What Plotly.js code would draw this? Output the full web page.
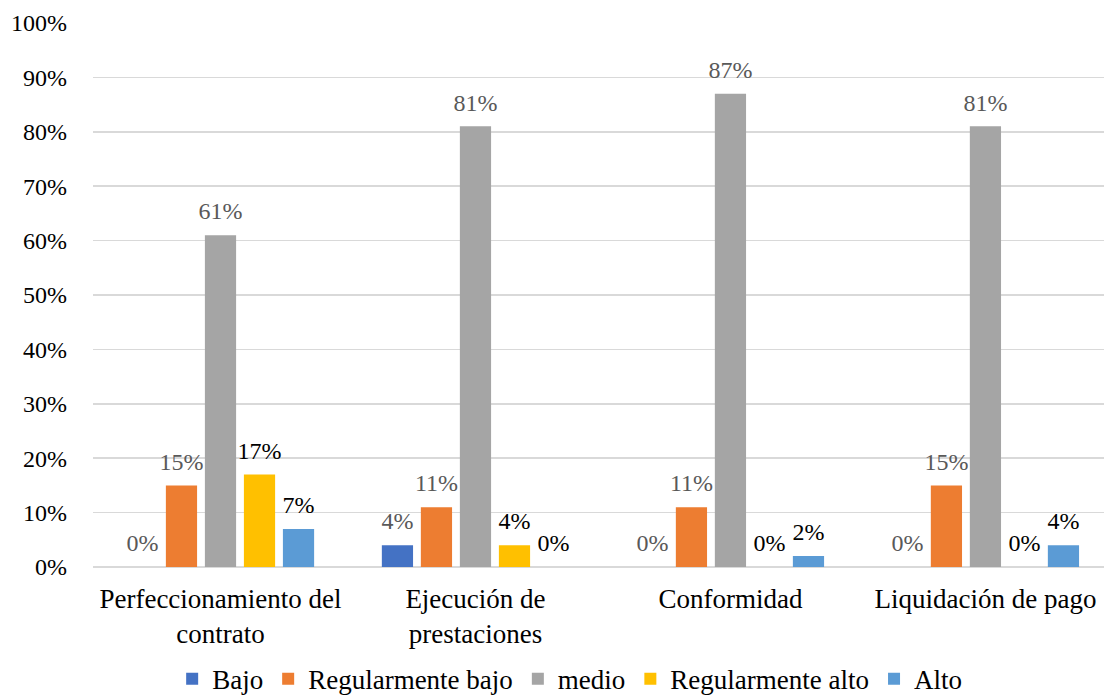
<!DOCTYPE html>
<html>
<head>
<meta charset="utf-8">
<script src="https://cdn.plot.ly/plotly-3.0.1.min.js"></script>
<style>html,body{margin:0;padding:0;background:#fff;}#chart{width:1104px;height:696px;}</style>
</head>
<body>
<div id="chart"></div>
<script>
const categories = ["Perfeccionamiento del<br>contrato", "Ejecución de<br>prestaciones", "Conformidad", "Liquidación de pago"];
const seriesNames = ["Bajo", "Regularmente bajo", "medio", "Regularmente alto", "Alto"];
const bajo = [0, 4, 0, 0];
const regBajo = [15, 11, 11, 15];
const medio = [61, 81, 87, 81];
const regAlto = [17, 4, 0, 0];
const alto = [7, 0, 2, 4];
const yTicks = [0, 10, 20, 30, 40, 50, 60, 70, 80, 90, 100];

const seriesValues = [bajo, regBajo, medio, regAlto, alto];
const barColors = ["#4472C4", "#ED7D31", "#A5A5A5", "#FFC000", "#5B9BD5"];
const labelColors = ["#595959", "#595959", "#595959", "#000000", "#000000"];
const FONT = "Liberation Serif";

const traces = [];
seriesValues.forEach((vals, i) => {
  traces.push({
    type: 'bar', name: seriesNames[i], x: categories, y: vals,
    marker: {color: barColors[i]}, hoverinfo: 'skip'
  });
});
seriesValues.forEach((vals, i) => {
  traces.push({
    type: 'scatter', mode: 'markers+text', x: categories, y: vals,
    text: vals.map(v => v + '%'), textposition: 'top center',
    textfont: {family: FONT, size: 24, color: labelColors[i]},
    marker: {size: 14, opacity: 0, color: barColors[i]},
    showlegend: false, hoverinfo: 'skip', cliponaxis: false
  });
});

const layout = {
  width: 1104, height: 696,
  margin: {l: 93, r: 0, t: 23, b: 129, autoexpand: false},
  paper_bgcolor: '#fff', plot_bgcolor: '#fff',
  barmode: 'group', bargap: 0.235, bargroupgap: 0.2,
  scattermode: 'group', scattergap: 0.235,
  font: {family: FONT, size: 24, color: '#000'},
  xaxis: {
    type: 'category', range: [-0.5, 3.465], showgrid: false, zeroline: false,
    showline: false, ticks: '', ticklabelstandoff: 13,
    tickfont: {family: FONT, size: 27, color: '#000'},
    fixedrange: true, automargin: false
  },
  yaxis: {
    range: [0, 100], tickvals: yTicks, ticktext: yTicks.map(t => t + '%'),
    showgrid: true, gridcolor: '#D9D9D9', gridwidth: 1.5,
    zeroline: true, zerolinecolor: '#D9D9D9', zerolinewidth: 1.5,
    showline: false, ticks: '', ticklabelstandoff: 25,
    tickfont: {family: FONT, size: 24, color: '#000'}, fixedrange: true, automargin: false
  },
  showlegend: true,
  legend: {
    orientation: 'h', xref: 'container', yref: 'paper',
    x: 0.516, xanchor: 'center', y: -0.161, yanchor: 'top',
    font: {family: FONT, size: 27, color: '#000'},
    itemwidth: 30, traceorder: 'normal'
  }
};

Plotly.newPlot('chart', traces, layout, {displayModeBar: false, staticPlot: true});
</script>
</body>
</html>
